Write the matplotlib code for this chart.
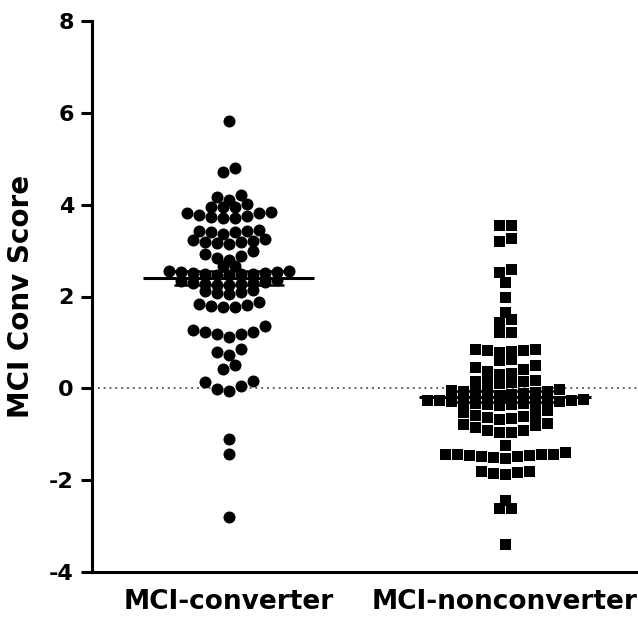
import numpy as np
import matplotlib
matplotlib.use('Agg')
import matplotlib.pyplot as plt

categories = ['MCI-converter', 'MCI-nonconverter']

converter_scores = [
    5.82, 4.80, 4.72,
    4.20, 4.17, 4.11,
    4.01, 3.96, 3.96, 3.94,
    3.84, 3.82, 3.81, 3.77, 3.75, 3.73, 3.72, 3.70,
    3.44, 3.43, 3.43, 3.41, 3.41, 3.37,
    3.25, 3.22, 3.21, 3.19, 3.18, 3.17, 3.15,
    2.99, 2.92, 2.88, 2.83, 2.79,
    2.66, 2.66,
    2.56, 2.55, 2.54, 2.53, 2.52, 2.51, 2.50, 2.49, 2.48, 2.47, 2.47,
    2.35, 2.33, 2.32, 2.30, 2.29, 2.28, 2.27, 2.26, 2.25,
    2.14, 2.12, 2.10, 2.08, 2.06,
    1.88, 1.84, 1.82, 1.80, 1.78, 1.77,
    1.35, 1.28, 1.23, 1.23, 1.19, 1.19, 1.12,
    0.86, 0.79, 0.72,
    0.50, 0.42,
    0.16, 0.13, 0.06, -0.02, -0.06,
    -1.10, -1.44, -2.80,
]

nonconverter_scores = [
    3.55, 3.55, 3.27, 3.20,
    2.59, 2.53, 2.32, 2.00,
    1.66, 1.50, 1.44, 1.23, 1.23,
    0.86, 0.85, 0.84, 0.83, 0.82, 0.80, 0.63, 0.61,
    0.50, 0.46, 0.42, 0.38, 0.34, 0.31,
    0.18, 0.16, 0.15, 0.14, 0.13, 0.12,
    -0.02, -0.03, -0.05, -0.06, -0.08, -0.09, -0.10, -0.11, -0.12, -0.14,
    -0.24, -0.25, -0.26, -0.26, -0.27, -0.28, -0.29, -0.30, -0.31, -0.32,
    -0.33, -0.34, -0.35, -0.36,
    -0.48, -0.52, -0.55, -0.58, -0.60, -0.62, -0.64, -0.66,
    -0.76, -0.78, -0.80, -0.85, -0.90, -0.90, -0.95, -0.95,
    -1.24, -1.39,
    -1.42, -1.43, -1.44, -1.44, -1.45, -1.46, -1.47, -1.48, -1.50, -1.52,
    -1.79, -1.80, -1.82, -1.84, -1.86,
    -2.43, -2.61, -2.61,
    -3.40,
]

group_means = [2.40, -0.18]
group_sems = [0.15, 0.12]
y_ticks = [-4, -2, 0, 2, 4, 6, 8]

fig = plt.figure(figsize=(6.38, 6.25), dpi=100)
ax = fig.add_axes([0.1442, 0.0848, 0.8558, 0.8816])
ax.set_xlim(-0.496, 1.482)
ax.set_ylim(-4, 8)


def row_scatter_x(ax, xc, values, spacing_px, gap_px):
    """Prism-like column scatter: values close in y form a row, spread
    symmetrically around the column centre (lowest value in the middle)."""
    vals = np.asarray(values, dtype=float)
    pts = ax.transData.transform(np.column_stack([np.full(len(vals), xc), vals]))
    ypx = pts[:, 1]
    order = np.argsort(ypx, kind='stable')
    rows = []
    for i in order:
        if rows and ypx[i] - ypx[rows[-1][-1]] <= gap_px:
            rows[-1].append(i)
        else:
            rows.append([i])
    offs = np.zeros(len(vals))
    for row in rows:
        n = len(row)
        slots = np.arange(n) - (n - 1) / 2.0
        slots = sorted(slots, key=lambda s: (abs(s), s))
        for idx, s in zip(row, slots):
            offs[idx] = s * spacing_px
    x0 = pts[0, 0]
    xs = ax.transData.inverted().transform(np.column_stack([x0 + offs, ypx]))[:, 0]
    return xs, vals


# zero reference line
ax.axhline(0, color='#666666', lw=1.4, ls=(0, (1, 2)), zorder=1)

xs0, v0 = row_scatter_x(ax, 0, converter_scores, 12.0, 4.0)
xs1, v1 = row_scatter_x(ax, 1, nonconverter_scores, 12.0, 4.0)
ax.scatter(xs0, v0, s=12.0 ** 2 * 0.5184, marker='o', color='black', linewidths=0, zorder=3)
ax.scatter(xs1, v1, s=11.0 ** 2 * 0.5184, marker='s', color='black', linewidths=0, zorder=3)

for i, (m, se) in enumerate(zip(group_means, group_sems)):
    ax.hlines(m, i - 0.31, i + 0.31, color='black', lw=2.2, zorder=4)
    ax.vlines(i, m - se, m + se, color='black', lw=2.2, zorder=4)
    ax.hlines([m - se, m + se], i - 0.2, i + 0.2, color='black', lw=1.8, zorder=4)

for side in ['top', 'right']:
    ax.spines[side].set_visible(False)
for side in ['left', 'bottom']:
    ax.spines[side].set_linewidth(2.2)

ax.set_yticks(y_ticks)
ax.set_yticklabels([str(t) for t in y_ticks])
ax.set_xticks([0, 1])
ax.set_xticklabels(categories)
ax.tick_params(axis='y', length=8, width=2.2, pad=5, labelsize=16)
ax.tick_params(axis='x', length=0, pad=12, labelsize=19)
for lbl in ax.get_xticklabels() + ax.get_yticklabels():
    lbl.set_fontweight('bold')
ax.set_ylabel('MCI Conv Score', fontsize=20, fontweight='bold', labelpad=10)

fig.savefig('out.png', dpi=100)
